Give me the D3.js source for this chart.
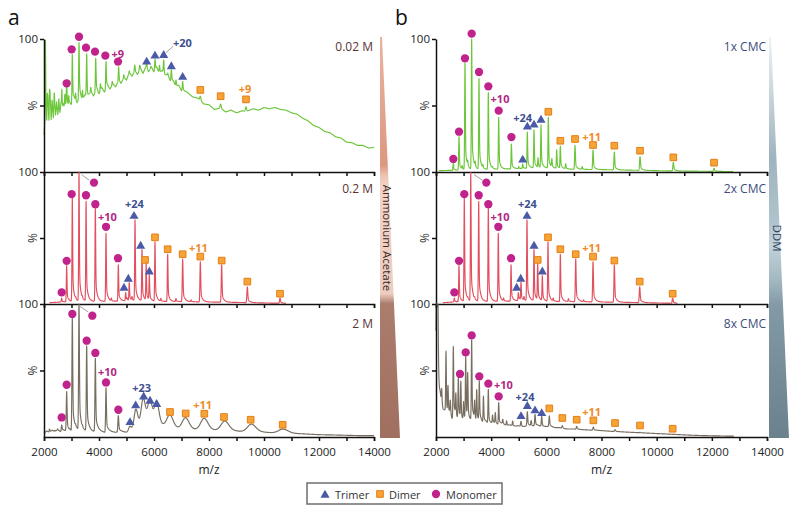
<!DOCTYPE html>
<html><head><meta charset="utf-8">
<script src="https://cdn.jsdelivr.net/npm/d3@7"></script>
<style>
body{margin:0;background:#fff}
svg{display:block}
text{font-family:"Open Sans",sans-serif}
</style>
</head><body>
<svg id="c" width="800" height="512"></svg>
<script>
// ---------------- DATA ----------------
const xDomain = [2000, 14000];
const xTickValues = [2000,3000,4000,5000,6000,7000,8000,9000,10000,11000,12000,13000,14000];
const xTickLabels = ["2000","4000","6000","8000","10000","12000","14000"];
const yTickValues = [50, 100];
const panelNames = ["0.02 M","0.2 M","2 M","1x CMC","2x CMC","8x CMC"];
const legendItems = [["T","Trimer"],["D","Dimer"],["M","Monomer"]];

// m/z range of each trace
const range_a1 = [2000,14000], range_a2 = [2200,10800], range_a3 = [2000,14000];
const range_b1 = [2100,12770], range_b2 = [2250,10750], range_b3 = [2000,12800];

// baselines [m/z, %]
const base_a1 = [[2000,28],[2060,45],[2100,32],[2140,52],[2180,35],[2220,56],[2260,38],[2300,50],[2340,40],[2380,54],[2420,42],[2460,52],[2500,43],[2540,49],[2580,44],[2620,52],[2660,46],[2700,50],[2760,47],[2820,51],[2880,49],[2940,51],[3000,50],[3100,54],[3200,51],[3300,56],[3400,53],[3500,58],[3600,55],[3700,60],[3800,57],[3900,61],[4000,58],[4100,63],[4200,60],[4300,64],[4400,62],[4500,66],[4600,64],[4700,68],[4800,66],[4900,71],[5000,69],[5100,75],[5200,72],[5300,76],[5400,73],[5500,78],[5600,74],[5700,79],[5800,75],[5900,79],[6000,75],[6100,78],[6200,74],[6300,76],[6400,72],[6500,73],[6600,68],[6700,68],[6800,64],[6900,65],[7000,61],[7200,60],[7400,56.5],[7600,55.5],[7800,51],[8000,50.5],[8200,47],[8400,48],[8600,45],[8800,46.5],[9000,44.5],[9200,46],[9400,45.5],[9600,47.5],[9800,46.5],[10000,48.5],[10200,47.5],[10400,48.5],[10600,47],[10800,46.5],[11000,44.5],[11200,43.5],[11400,40.5],[11600,38.5],[11800,35],[12000,33.5],[12200,30.5],[12400,29.5],[12600,26.5],[12800,25.5],[13000,22.5],[13200,22],[13400,20],[13600,20],[13800,18],[14000,18.5]];
const base_a2 = [[2200,1],[2600,1.5],[3000,1.8],[3500,2],[4000,2],[4500,2],[5000,2.5],[5500,2.5],[6000,2],[7000,1.8],[8000,1.5],[9000,1.2],[10000,0.8],[10800,0.5]];
const base_a3 = [[2000,3],[2100,4.5],[2200,3.5],[2300,5],[2400,4],[2500,5.5],[2600,4],[2700,5],[2800,4.5],[3000,4],[3200,5],[3400,4],[3600,4.5],[3800,4],[4000,4.5],[4200,3.5],[4400,4],[4600,3.5],[4800,4],[5000,3.5],[6000,4],[7000,4],[8000,3.5],[9000,3],[10000,2.5],[11000,2],[11500,1.8],[12000,1.5],[12500,1.4],[13000,1.2],[13500,1],[14000,1]];
const base_b1 = [[2100,1],[3000,1.5],[4000,2],[5000,2.5],[5500,3],[6000,3],[6500,2.5],[7000,2],[8000,1.8],[9000,1.4],[10000,1],[11000,0.7],[12000,0.5],[12770,0.3]];
const base_b2 = [[2250,1],[2600,1.5],[3000,1.8],[3500,2],[4000,2],[4500,2],[5000,2.5],[5500,2.5],[6000,2],[7000,1.8],[8000,1.5],[9000,1.2],[10000,0.8],[10750,0.5]];
const base_b3 = [[2000,20],[2080,15],[2150,19],[2250,14],[2330,17],[2420,13],[2500,16],[2580,12],[2680,15],[2760,12],[2850,14],[2950,11],[3050,13],[3200,11],[3350,12.5],[3450,10.5],[3600,12],[3700,10],[3800,11],[3950,9.5],[4100,10.5],[4250,9],[4400,10],[4550,8.5],[4700,9],[4850,8],[5000,8.5],[5150,7.5],[5300,8.5],[5500,8],[5700,8.5],[5900,7.5],[6100,8],[6300,7],[6500,7],[6700,6],[7000,6],[7300,5.5],[7600,5.2],[8000,4.8],[8400,4.2],[8800,3.8],[9200,3.4],[9600,3],[10000,2.6],[10400,2.2],[10800,1.8],[11200,1.4],[11600,1.1],[12000,0.9],[12800,0.6]];

// peaks [m/z, apex %, width in m/z]
const peaks_a1 = [[2050,99,10],[2120,55,10],[2200,60,10],[2290,52,10],[2370,58,10],[2450,50,10],[2540,55,10],[2650,62,10],[2760,58,12],[2824,67,12],[2900,56,10],[3030,88,12],[3150,58,10],[3273,97,12],[3400,60,10],[3552,88.7,12],[3700,63,10],[3880,85.5,12],[4050,66,10],[4255,83,12],[4480,68,10],[4715,79,12],[4900,73,10],[5100,76,10],[5300,80.5,14],[5480,80,14],[5733,82,14],[5880,79,12],[6036,84.7,14],[6200,80,12],[6352,84,14],[6500,74,12],[6630,76.7,14],[6800,69,12],[7042,68,14],[7685,57,20],[8424,51,20],[9345,49,20]];
const peaks_a2 = [[2643,4.5,12],[2824,29,12],[3030,80,12],[3150,3,12],[3273,100,12],[3400,3,12],[3530,77.4,12],[3867,72.4,12],[4255,53.5,12],[4450,4,12],[4703,29.6,12],[4970,8.5,12],[5020,4,12],[5100,16,12],[5200,5,12],[5310,63.5,12],[5564,41,12],[5715,30,12],[5830,21,12],[6036,47,12],[6250,4,12],[6497,37.7,12],[6800,4,12],[7042,34,14],[7350,3,12],[7685,32,14],[8460,29.6,14],[9394,13,16],[10582,4.5,16]];
const peaks_a3 = [[2200,6,12],[2400,5,12],[2500,6,12],[2643,9,14],[2824,34,14],[2950,5,12],[3030,89.5,14],[3150,6,12],[3273,100,14],[3400,5,12],[3552,68,14],[3867,59,14],[4255,37,14],[4703,16,16],[5127,8,50],[5345,20.5,70],[5612,27,80],[5855,24,80],[6097,22,80],[6582,14,110],[7152,13,120],[7830,13,130],[8582,11,140],[9552,9,150],[10703,5.5,170]];
const peaks_b1 = [[2628,6.5,12],[2834,26.5,12],[2950,4,12],[3051,81.7,12],[3150,5,12],[3293,99.8,12],[3420,5,12],[3559,69.8,12],[3700,4,12],[3897,59.6,12],[4050,3,12],[4273,41,12],[4734,21,12],[5000,4,12],[5143,6,12],[5311,30,12],[5553,31.6,12],[5700,10,12],[5807,35,12],[6072,41,12],[6200,9,12],[6375,16.5,12],[6508,19,12],[6700,6,12],[7040,20,14],[7300,4,12],[7693,16.5,14],[8466,15,14],[9397,11.5,16],[10604,7.3,16],[12080,2.8,18]];
const peaks_b2 = [[2664,4.5,12],[2834,29,12],[3026,80,12],[3150,3,12],[3260,100,12],[3400,3,12],[3548,77.4,12],[3897,72.4,12],[4259,53.5,12],[4450,4,12],[4721,29.6,12],[4985,8.5,12],[5030,4,12],[5082,16,12],[5190,5,12],[5299,63.5,12],[5553,41,12],[5687,30,12],[5855,21,12],[6061,47,12],[6250,4,12],[6508,37.7,12],[6800,4,12],[7065,34,14],[7350,3,12],[7693,32,14],[8466,29.6,14],[9385,13,16],[10580,4.5,16]];
const peaks_b3 = [[2020,100,25],[2060,100,20],[2206,27,12],[2363,62,12],[2435,34,12],[2520,25,12],[2628,67,12],[2720,30,12],[2810,43,12],[2900,40,12],[3000,25,12],[3077,59,12],[3150,44.6,12],[3293,72,12],[3400,25,12],[3475,34,12],[3570,40.6,12],[3720,30,12],[3897,35.5,12],[4050,16,12],[4150,18,12],[4273,25.5,12],[4420,13,12],[4560,12,12],[4780,12,12],[5082,11.8,14],[5311,19,14],[5450,12,14],[5590,16.8,14],[5832,15.5,14],[6108,15.8,14],[6580,8.5,16],[7100,8,16],[7705,7.5,16],[8490,5.5,18],[9397,3.5,18],[10580,2,20]];

// markers [type, m/z, %]  (M monomer, D dimer, T trimer)
const markers_a1 = [["M",2824,66.7],["M",3006,92.2],["M",3273,101.7],["M",3527,93.5],["M",3855,90.5],["M",4230,87.5],["M",4691,83],["T",5733,83.5],["T",6036,88],["T",6352,88.5],["T",6630,80],["T",7042,72],["D",7685,61.7],["D",8424,57],["D",9345,54.6]];
const markers_a2 = [["M",2643,8.8],["M",2824,32.7],["M",3006,83.2],["M",3818,92],["M",3527,82.4],["M",3867,75.6],["M",4255,58.5],["M",4691,34.7],["T",4909,12.8],["T",5067,19.6],["T",5273,67.3],["T",5515,44.7],["T",5830,25.1],["D",5673,33.4],["D",6036,50.5],["D",6497,41.5],["D",7042,37.7],["D",7685,35.9],["D",8461,32.9],["D",9394,17],["D",10582,7.8]];
const markers_a3 = [["M",2643,14.7],["M",2824,39.3],["M",3030,92.5],["M",3757,91.2],["M",3552,72.4],["M",3867,63.2],["M",4255,41],["M",4703,20.5],["T",5127,11.7],["T",5333,24.3],["T",5624,31],["T",5855,27.8],["T",6097,25.3],["D",6582,18.8],["D",7152,17.7],["D",7830,17.5],["D",8545,15],["D",9515,13],["D",10679,9.2]];
const markers_b1 = [["M",2628,9.8],["M",2834,30.3],["M",3051,85.5],["M",3293,104],["M",3559,75.2],["M",3897,64.4],["M",4273,46.1],["M",4734,26.3],["T",5143,9.8],["T",5311,34.6],["T",5553,36.1],["T",5807,39.8],["D",6072,45.3],["D",6508,23.5],["D",7040,24.8],["D",7693,20.3],["D",8466,19.8],["D",9397,16],["D",10604,11],["D",12080,7]];
const markers_b2 = [["M",2664,8.8],["M",2834,32.7],["M",3026,83.2],["M",3824,92],["M",3548,82.4],["M",3897,75.6],["M",4259,58.5],["M",4721,34.7],["T",4925,12.8],["T",5071,19.6],["T",5299,67.3],["T",5553,44.7],["T",5855,25.1],["D",5687,33.4],["D",6061,50.5],["D",6508,41.5],["D",7065,37.7],["D",7693,35.9],["D",8466,32.9],["D",9385,17],["D",10580,7.8]];
const markers_b3 = [["M",2870,47.4],["M",3077,63.6],["M",3293,76.4],["M",3570,45.6],["M",3897,40.1],["M",4273,30.5],["T",5082,16.2],["T",5311,23.8],["T",5590,20.5],["T",5832,18.5],["D",6108,21.5],["D",6580,14.3],["D",7100,13],["D",7705,12.5],["D",8490,10.5],["D",9397,8.7],["D",10580,6.2]];

// charge-state labels [text, type, m/z, %]
const labels_a1 = [["+9","M",4680,89],["+20","T",7030,97],["+9","D",9309,63]];
const labels_a2 = [["+10","M",4303,66.6],["+24","T",5285,76],["+11","D",7612,42.7]];
const labels_a3 = [["+10","M",4303,49.3],["+23","T",5552,37.3],["+11","D",7770,24.3]];
const labels_b1 = [["+10","M",4320,54.9],["+24","T",5143,40.8],["+11","D",7645,27]];
const labels_b2 = [["+10","M",4320,66.6],["+24","T",5311,76],["+11","D",7645,42.7]];
const labels_b3 = [["+10","M",4441,39.3],["+24","T",5227,30.5],["+11","D",7645,19.2]];

// leader lines [m/z1, %1, m/z2, %2]
const leaders_a1 = [[6436,89.7,6703,94.7]];
const leaders_a2 = [[3371,98,3647,93.7]];
const leaders_a3 = [[3309,98.2,3611,94]];
const leaders_b1 = [];
const leaders_b2 = [[3378,98,3693,93.7]];
const leaders_b3 = [];

// ---------------- LAYOUT / STYLE ----------------
const colX = [[44,374],[436,767]];
const rowY = [[172,39],[304,172],[437,304]];
const nameOffset = [7,16,19];
const lineColors = ["#6cc63a","#e2505f","#776e60"];
const nameColors = ["#5a3432","#3d4c7c"];
const markColor = {M:"#c0238b", T:"#4a5aa6", D:"#f6a436"};
const labelColor = {M:"#b0287f", T:"#3d4f8f", D:"#f08a26"};

const panels = [
  {col:0,row:0,range:range_a1,base:base_a1,peaks:peaks_a1,markers:markers_a1,labels:labels_a1,leaders:leaders_a1},
  {col:0,row:1,range:range_a2,base:base_a2,peaks:peaks_a2,markers:markers_a2,labels:labels_a2,leaders:leaders_a2},
  {col:0,row:2,range:range_a3,base:base_a3,peaks:peaks_a3,markers:markers_a3,labels:labels_a3,leaders:leaders_a3},
  {col:1,row:0,range:range_b1,base:base_b1,peaks:peaks_b1,markers:markers_b1,labels:labels_b1,leaders:leaders_b1},
  {col:1,row:1,range:range_b2,base:base_b2,peaks:peaks_b2,markers:markers_b2,labels:labels_b2,leaders:leaders_b2},
  {col:1,row:2,range:range_b3,base:base_b3,peaks:peaks_b3,markers:markers_b3,labels:labels_b3,leaders:leaders_b3}
];
panels.forEach((p,i)=>p.name=panelNames[i]);

function spectrum(base, peaks, range){
  const baseAt = d3.scaleLinear().domain(base.map(d=>d[0])).range(base.map(d=>d[1])).clamp(true);
  let ms = d3.range(range[0], range[1], 3).concat([range[1]]).concat(base.map(d=>d[0])).concat(peaks.map(d=>d[0]));
  ms = Array.from(new Set(ms.filter(m=>m>=range[0]&&m<=range[1]))).sort((a,b)=>a-b);
  return ms.map(m=>{
    let v = baseAt(m);
    for (const [pm, top, w] of peaks){
      const t = (m-pm)/w;
      if (t < -5 || t > 40) continue;
      const h = top - baseAt(pm);
      const s = t < 0 ? Math.exp(-0.5*t*t) : 0.75*Math.exp(-0.5*t*t) + 0.25*Math.exp(-t/5);
      v += h*s;
    }
    return [m, Math.min(v,100)];
  });
}

const symbolFor = {M:d3.symbolCircle, T:d3.symbolTriangle, D:d3.symbolSquare};
const symbolSize = {M:54, T:36, D:44};
function drawMarker(g, type, cx, cy){
  const s = g.append("path").attr("d", d3.symbol().type(symbolFor[type]).size(symbolSize[type])())
    .attr("transform", `translate(${cx},${cy + (type==="T"?1:0)})`)
    .attr("fill", markColor[type]);
  if (type==="D") s.attr("stroke","#e57e18").attr("stroke-width",1);
}

// ---------------- DRAW ----------------
const svg = d3.select("#c");
const defs = svg.append("defs");
const g1 = defs.append("linearGradient").attr("id","gAA").attr("x1",0).attr("y1",0).attr("x2",0).attr("y2",1);
[[0,"#eab39f"],[0.32,"#dc9880"],[0.345,"#edc3b0"],[0.37,"#f2d3c6"],[0.64,"#edcdbf"],[0.665,"#ab7d6d"],[1,"#a06f60"]]
  .forEach(([o,c])=>g1.append("stop").attr("offset",o).attr("stop-color",c));
const g2 = defs.append("linearGradient").attr("id","gDDM").attr("x1",0).attr("y1",0).attr("x2",0).attr("y2",1);
[[0,"#eef3f6"],[0.3,"#a0b4bf"],[0.45,"#aec2cc"],[0.52,"#c0d2da"],[0.6,"#a6bac4"],[0.67,"#8299a6"],[1,"#6b818d"]]
  .forEach(([o,c])=>g2.append("stop").attr("offset",o).attr("stop-color",c));

svg.append("polygon").attr("points","380,37 382,37 400,438 380,438").attr("fill","url(#gAA)");
svg.append("polygon").attr("points","769,37 771,37 789,438 769,438").attr("fill","url(#gDDM)");
svg.append("text").attr("transform","translate(387,238) rotate(90)").attr("text-anchor","middle")
  .attr("dominant-baseline","central").attr("font-size",11.5).attr("fill","#3a2a28").text("Ammonium Acetate");
svg.append("text").attr("transform","translate(777,238) rotate(90)").attr("text-anchor","middle")
  .attr("dominant-baseline","central").attr("font-size",11.5).attr("fill","#2e3d5a").text("DDM");

panels.forEach(p=>{
  const [x0,x1] = colX[p.col], [yb,yt] = rowY[p.row];
  const x = d3.scaleLinear().domain(xDomain).range([x0,x1]);
  const y = d3.scaleLinear().domain([0,100]).range([yb,yt]);
  const g = svg.append("g");
  g.append("path").datum(spectrum(p.base,p.peaks,p.range))
    .attr("d", d3.line().x(d=>x(d[0])).y(d=>y(d[1])))
    .attr("fill","none").attr("stroke",lineColors[p.row]).attr("stroke-width",1.15).attr("stroke-linejoin","round");
  p.leaders.forEach(([m1,v1,m2,v2])=>g.append("line").attr("x1",x(m1)).attr("y1",y(v1)).attr("x2",x(m2)).attr("y2",y(v2))
    .attr("stroke","#8a8a8a").attr("stroke-width",0.8));
  p.markers.forEach(([t,m,v])=>drawMarker(g,t,x(m),y(v)));
  p.labels.forEach(([txt,t,m,v])=>g.append("text").attr("x",x(m)).attr("y",y(v)).attr("text-anchor","middle")
    .attr("dominant-baseline","central").attr("font-size",11).attr("font-weight","bold").attr("fill",labelColor[t]).text(txt));
  g.append("text").attr("x",x1-1).attr("y",yt+nameOffset[p.row]).attr("text-anchor","end").attr("dominant-baseline","central")
    .attr("font-size",12).attr("fill",nameColors[p.col]).text(p.name);

  const isBottom = p.row===2;
  const ax = g.append("g").attr("transform",`translate(0,${yb})`)
    .call(d3.axisBottom(x).tickValues(xTickValues).tickSize(4).tickSizeOuter(4).tickPadding(7)
      .tickFormat(d=> isBottom && xTickLabels.includes(String(d)) ? String(d) : ""));
  const ay = g.append("g").attr("transform",`translate(${x0},0)`)
    .call(d3.axisLeft(y).tickValues(yTickValues).tickSize(4).tickSizeOuter(0).tickPadding(2)
      .tickFormat(d=> d===100 ? "100" : ""));
  [ax,ay].forEach(a=>{
    a.selectAll("path,line").attr("stroke","#111").attr("stroke-width",1.5);
    a.selectAll("text").attr("font-size",11.5).attr("fill","#222").attr("font-family","'Open Sans',sans-serif");
  });
  g.append("text").attr("transform",`translate(${x0-12},${(yb+yt)/2}) rotate(-90)`).attr("text-anchor","middle")
    .attr("dominant-baseline","central").attr("font-size",12).attr("fill","#333").text("%");
  if (isBottom) g.append("text").attr("x",(x0+x1)/2).attr("y",474).attr("text-anchor","middle")
    .attr("font-size",12).attr("fill","#222").text("m/z");
});

svg.append("text").attr("x",8).attr("y",25).attr("font-family","'Liberation Sans',Arial,sans-serif").attr("font-size",21).attr("fill","#111").text("a");
svg.append("text").attr("x",395).attr("y",25).attr("font-family","'Liberation Sans',Arial,sans-serif").attr("font-size",21).attr("fill","#111").text("b");

// legend
const lg = svg.append("g");
lg.append("rect").attr("x",307).attr("y",483).attr("width",195).attr("height",21).attr("fill","#fff").attr("stroke","#6e6e6e").attr("stroke-width",1.5);
const legX = [[325,335],[380,389],[436,446]];
legendItems.forEach(([t,name],i)=>{
  drawMarker(lg,t,legX[i][0],494);
  lg.append("text").attr("x",legX[i][1]).attr("y",494).attr("dominant-baseline","central").attr("font-size",11).attr("fill","#333").text(name);
});
</script>
</body></html>
